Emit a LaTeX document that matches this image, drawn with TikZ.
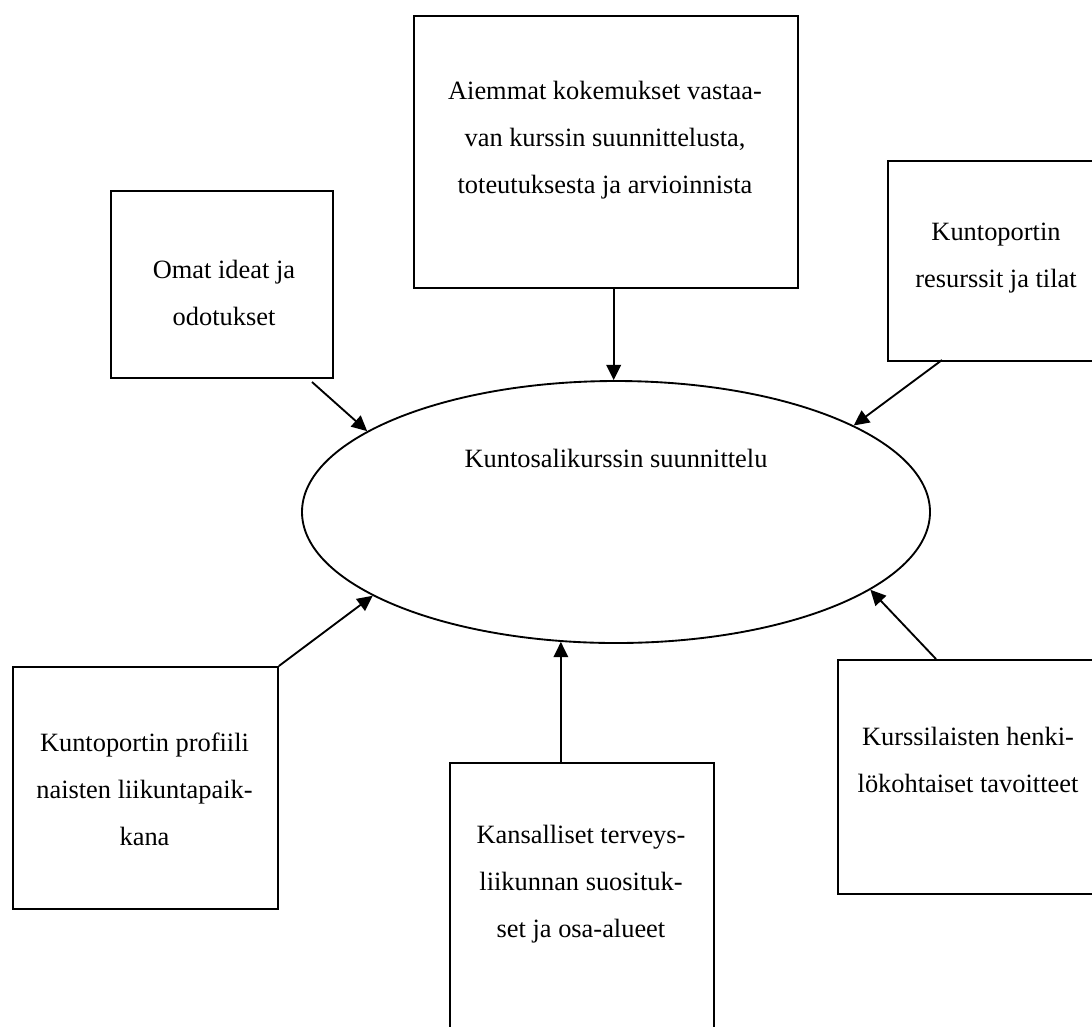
\documentclass[tikz,border=0pt]{standalone}
\usepackage{fontspec}
\setmainfont{Liberation Serif}
\usetikzlibrary{arrows.meta,shapes.geometric}
\begin{document}
\begin{tikzpicture}[x=0.75pt,y=-0.75pt,
  box/.style={draw,line width=1.4pt,rectangle,inner sep=0pt,anchor=north west},
  lbl/.style={align=center,font=\fontsize{19.8pt}{35.25pt}\selectfont,inner sep=0pt},
  arr/.style={line width=1.4pt,-{Triangle[length=11.5pt,width=11pt]}}]
\useasboundingbox (0,0) rectangle (1092,1026);
% boxes
\node[box,minimum width=288pt,minimum height=204pt] (tc) at (413,15) {};
\node[box,minimum width=166.5pt,minimum height=140.25pt] (tl) at (110,190) {};
\node[box,minimum width=167.25pt,minimum height=150pt] (tr) at (887,160) {};
\node[box,minimum width=198.75pt,minimum height=181.5pt] (bl) at (12,666) {};
\node[box,minimum width=198pt,minimum height=223.5pt] (bc) at (449,762) {};
\node[box,minimum width=204.75pt,minimum height=175.5pt] (br) at (837,659) {};
% ellipse
\node[draw,ellipse,line width=1.4pt,inner sep=0pt,minimum width=471pt,minimum height=196.5pt] (el) at (616,512) {};
% texts
\node[lbl] (tctext) at (605,140) {Aiemmat kokemukset vastaa-\\van kurssin suunnittelusta,\\toteutuksesta ja arvioinnista};
\node[lbl] (tltext) at (224,293) {Omat ideat ja\\odotukset};
\node[lbl] (trtext) at (996,258) {Kuntoportin\\resurssit ja tilat};
\node[lbl] (eltext) at (616,458) {Kuntosalikurssin suunnittelu};
\node[lbl] (bltext) at (144.5,789) {Kuntoportin profiili\\naisten liikuntapaik-\\kana};
\node[lbl] (bctext) at (581,884) {Kansalliset terveys-\\liikunnan suosituk-\\set ja osa-alueet};
\node[lbl] (brtext) at (968,760) {Kurssilaisten henki-\\lökohtaiset tavoitteet};
% arrow start points
\coordinate (stl) at (312,382);
\coordinate (str) at (942,360);
\coordinate (sbr) at (936,659);
% arrows
\draw[arr] (tc.south -| el.91.8) -- (el.91.8);
\draw[arr] (stl) -- (el.162.2);
\draw[arr] (str) -- (el.20);
\draw[arr] (bl.north east) -- (el.199);
\draw[arr] (bc.north -| el.247.2) -- (el.247.2);
\draw[arr] (sbr) -- (el.343.2);
\end{tikzpicture}
\end{document}
